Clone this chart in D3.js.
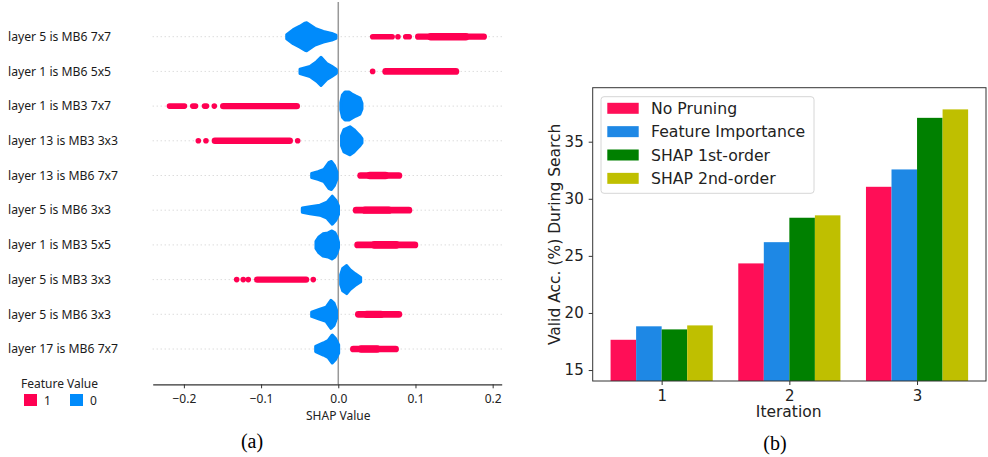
<!DOCTYPE html>
<html>
<head>
<meta charset="utf-8">
<script src="https://cdnjs.cloudflare.com/ajax/libs/d3/7.8.5/d3.min.js"></script>
<style>
  body { margin: 0; background: #fff; }
</style>
</head>
<body>
<script>
// ---------- data for (a): SHAP summary ----------
var features = ["layer 5 is MB6 7x7", "layer 1 is MB6 5x5", "layer 1 is MB3 7x7", "layer 13 is MB3 3x3",
  "layer 13 is MB6 7x7", "layer 5 is MB6 3x3", "layer 1 is MB3 5x5", "layer 5 is MB3 3x3",
  "layer 5 is MB6 3x3", "layer 17 is MB6 7x7"];

// feature value 0: [shap value, relative density]
var blueProfiles = [
  [[-0.0668, 0.15], [-0.0583, 0.5], [-0.0496, 0.75], [-0.0431, 0.97], [-0.041, 1.0], [-0.0302, 0.6], [-0.0194, 0.38], [-0.0085, 0.24], [-0.003, 0.12]],
  [[-0.0496, 0.15], [-0.0366, 0.36], [-0.0280, 0.7], [-0.0224, 1.0], [-0.0150, 0.57], [-0.0085, 0.36], [-0.0043, 0.21], [-0.0024, 0.12]],
  [[0.0033, 0.25], [0.0054, 0.8], [0.0087, 1.0], [0.0139, 1.0], [0.0177, 0.86], [0.0229, 0.71], [0.0281, 0.57], [0.0307, 0.2]],
  [[0.0042, 0.35], [0.0074, 0.8], [0.0152, 1.0], [0.0203, 0.8], [0.0242, 0.57], [0.0281, 0.35], [0.0307, 0.15]],
  [[-0.0345, 0.15], [-0.0263, 0.28], [-0.0185, 0.43], [-0.012, 0.93], [-0.0088, 1.0], [-0.0049, 0.7], [-0.0017, 0.25]],
  [[-0.0466, 0.15], [-0.0366, 0.25], [-0.0237, 0.36], [-0.0146, 0.57], [-0.0078, 1.0], [-0.003, 0.7], [0.0003, 0.3]],
  [[-0.0289, 0.25], [-0.025, 0.57], [-0.0198, 0.79], [-0.0133, 0.86], [-0.0082, 1.0], [-0.0043, 0.86], [-0.0017, 0.57], [0.0003, 0.2]],
  [[0.0031, 0.35], [0.0057, 0.8], [0.0109, 1.0], [0.0152, 0.71], [0.0216, 0.43], [0.029, 0.15]],
  [[-0.0345, 0.15], [-0.0237, 0.36], [-0.0159, 0.5], [-0.0095, 1.0], [-0.0056, 0.8], [-0.0023, 0.3]],
  [[-0.0293, 0.18], [-0.0194, 0.43], [-0.0133, 0.6], [-0.0078, 1.0], [-0.0036, 0.75], [0.0005, 0.3]]
];

// feature value 1: runs of dots [from, to, relative thickness]
var redRuns = [
  [[0.041, 0.0734, 0.2], [0.0773, 0.0773, 0.2], [0.0838, 0.0955, 0.2], [0.0994, 0.1926, 0.22], [0.115, 0.17, 0.27]],
  [[0.0445, 0.0445, 0.2], [0.057, 0.1567, 0.24]],
  [[-0.2223, -0.1956, 0.2], [-0.1921, -0.1813, 0.2], [-0.1769, -0.1671, 0.2], [-0.1606, -0.1606, 0.2], [-0.1532, -0.0496, 0.23]],
  [[-0.1813, -0.1813, 0.2], [-0.1714, -0.1714, 0.2], [-0.164, -0.0587, 0.23], [-0.0526, -0.0526, 0.2]],
  [[0.0246, 0.0829, 0.24], [0.036, 0.066, 0.27]],
  [[0.0187, 0.0959, 0.24], [0.03, 0.07, 0.26]],
  [[0.0207, 0.1036, 0.24], [0.042, 0.08, 0.27]],
  [[-0.1316, -0.1316, 0.2], [-0.1231, -0.1231, 0.2], [-0.1166, -0.1166, 0.2], [-0.1092, -0.0376, 0.23], [-0.0324, -0.0324, 0.2]],
  [[0.0216, 0.0829, 0.24], [0.032, 0.06, 0.26]],
  [[0.0152, 0.0786, 0.24], [0.025, 0.055, 0.26]]
];
var shapTicks = [-0.2, -0.1, 0, 0.1, 0.2];

// ---------- data for (b): bar chart ----------
var iterations = [1, 2, 3];
var methods = ["No Pruning", "Feature Importance", "SHAP 1st-order", "SHAP 2nd-order"];
var noPruning = [17.65, 24.34, 31.05];
var featureImportance = [18.83, 26.2, 32.57];
var shapFirst = [18.56, 28.34, 37.09];
var shapSecond = [18.91, 28.55, 37.83];
var accTicks = [15, 20, 25, 30, 35];

var w = 988;
var h = 457;

var svg = d3.select("body").append("svg")
    .attr("width", w)
    .attr("height", h)
    .style("display", "block");

svg.append("rect").attr("width", w).attr("height", h).attr("fill", "#fff");

// ================= (a) =================
var red = "#ff0052";
var blue = "#008bfb";
var labelFont = "'Noto Sans', 'Open Sans', sans-serif";

var x = d3.scaleLinear().domain([-0.2404, 0.2117]).range([152.7, 501.7]);
// two rows share a label, so rows are placed by index
var y = d3.scalePoint().domain(d3.range(features.length)).range([36.7, 349]);
var thick = d3.scaleLinear().domain([0, 1]).range([0, 14]);

var a = svg.append("g").attr("class", "shap");

// dotted row guides
a.selectAll(".guide").data(features).enter().append("line")
    .attr("x1", x.range()[0]).attr("x2", x.range()[1])
    .attr("y1", (d, i) => y(i)).attr("y2", (d, i) => y(i))
    .attr("stroke", "#cccccc")
    .attr("stroke-width", 1)
    .attr("stroke-dasharray", "1,3");

// zero line
a.append("line")
    .attr("x1", x(0)).attr("x2", x(0))
    .attr("y1", 2).attr("y2", 384)
    .attr("stroke", "#999")
    .attr("stroke-width", 1.5);

a.selectAll(".label").data(features).enter().append("text")
    .attr("x", 8)
    .attr("y", (d, i) => y(i))
    .attr("dy", "0.35em")
    .style("font-family", labelFont)
    .style("font-size", "12.2px")
    .style("fill", "#1a1a1a")
    .text(d => d);

features.forEach(function(f, i) {
    var cy = y(i);
    var area = d3.area()
        .x(d => x(d[0]))
        .y0(d => cy - thick(d[1]))
        .y1(d => cy + thick(d[1]))
        .curve(d3.curveLinear);
    a.append("path")
        .datum(blueProfiles[i])
        .attr("d", area)
        .attr("fill", blue)
        .attr("stroke", blue)
        .attr("stroke-width", 3)
        .attr("stroke-linejoin", "round");

    a.selectAll(".run" + i).data(redRuns[i]).enter().append("rect")
        .attr("x", d => Math.min(x(d[0]), (x(d[0]) + x(d[1])) / 2 - thick(d[2])))
        .attr("width", d => Math.max(x(d[1]) - x(d[0]), 2 * thick(d[2])))
        .attr("y", d => cy - thick(d[2]))
        .attr("height", d => 2 * thick(d[2]))
        .attr("rx", d => thick(d[2]))
        .attr("fill", red);
});

// x axis
var xAxis = a.append("g")
    .attr("transform", "translate(0,384.3)")
    .call(d3.axisBottom(x).tickValues(shapTicks).tickFormat(d3.format(".1f")).tickSize(4).tickSizeOuter(0));
xAxis.select(".domain").attr("stroke", "#333").attr("stroke-width", 1.2);
xAxis.selectAll(".tick line").attr("stroke", "#333");
xAxis.selectAll("text")
    .style("font-family", labelFont)
    .style("font-size", "12px")
    .style("fill", "#222")
    .attr("y", 10);

a.append("text")
    .attr("x", x(0)).attr("y", 420)
    .attr("text-anchor", "middle")
    .style("font-family", labelFont)
    .style("font-size", "12px")
    .style("fill", "#222")
    .text("SHAP Value");

// legend
a.append("text")
    .attr("x", 21).attr("y", 387.5)
    .style("font-family", labelFont)
    .style("font-size", "12px")
    .style("fill", "#222")
    .text("Feature Value");
var legA = [["1", red, 24], ["0", blue, 70]];
legA.forEach(function(l) {
    a.append("rect").attr("x", l[2]).attr("y", 394).attr("width", 13).attr("height", 12).attr("fill", l[1]);
    a.append("text").attr("x", l[2] + 20).attr("y", 404.5)
        .style("font-family", labelFont).style("font-size", "12px").style("fill", "#222").text(l[0]);
});

// ================= (b) =================
var colors = ["#ff0e57", "#1e88e5", "#008000", "#bfbf00"];
var series = [noPruning, featureImportance, shapFirst, shapSecond];
var mpl = "'DejaVu Sans', sans-serif";

var xb = d3.scaleLinear().domain([0.46, 3.54]).range([592.7, 986]);
var yb = d3.scaleLinear().domain([14.04, 39.73]).range([381, 87.7]);
var barW = 0.2;

var b = svg.append("g").attr("class", "bars");

series.forEach(function(s, j) {
    b.selectAll(".bar" + j).data(s).enter().append("rect")
        .attr("x", (d, i) => xb(iterations[i] + (j - 2) * barW))
        .attr("width", xb(barW) - xb(0))
        .attr("y", d => yb(d))
        .attr("height", d => yb(yb.domain()[0]) - yb(d))
        .attr("fill", colors[j]);
});

// frame
b.append("rect")
    .attr("x", xb.range()[0]).attr("y", yb.range()[1])
    .attr("width", xb.range()[1] - xb.range()[0])
    .attr("height", yb.range()[0] - yb.range()[1])
    .attr("fill", "none")
    .attr("stroke", "#333")
    .attr("stroke-width", 1);

var yAx = b.append("g")
    .attr("transform", "translate(" + xb.range()[0] + ",0)")
    .call(d3.axisLeft(yb).tickValues(accTicks).tickSize(4).tickPadding(5));
var xAx = b.append("g")
    .attr("transform", "translate(0," + yb.range()[0] + ")")
    .call(d3.axisBottom(xb).tickValues(iterations).tickFormat(d3.format("d")).tickSize(4).tickPadding(5));
[yAx, xAx].forEach(function(g) {
    g.select(".domain").remove();
    g.selectAll(".tick line").attr("stroke", "#333");
    g.selectAll("text").style("font-family", mpl).style("font-size", "15px").style("fill", "#222");
});

b.append("text")
    .attr("x", 788.7).attr("y", 417)
    .attr("text-anchor", "middle")
    .style("font-family", mpl).style("font-size", "15.5px").style("fill", "#222")
    .text("Iteration");

b.append("text")
    .attr("transform", "translate(560," + ((yb.range()[0] + yb.range()[1]) / 2) + ") rotate(-90)")
    .attr("text-anchor", "middle")
    .style("font-family", mpl).style("font-size", "15.5px").style("fill", "#222")
    .text("Valid Acc. (%) During Search");

// legend
var leg = b.append("g");
leg.append("rect")
    .attr("x", 601).attr("y", 96.7).attr("width", 213).attr("height", 96.6)
    .attr("rx", 3)
    .attr("fill", "#fff").attr("fill-opacity", 0.85)
    .attr("stroke", "#d6d6d6");
methods.forEach(function(m, j) {
    var ly = 108.3 + j * 23.35;
    leg.append("rect").attr("x", 607.3).attr("y", ly - 5.5).attr("width", 31.4).attr("height", 11).attr("fill", colors[j]);
    leg.append("text").attr("x", 651).attr("y", ly).attr("dy", "0.36em")
        .style("font-family", mpl).style("font-size", "15.7px").style("fill", "#222")
        .text(m);
});

// panel captions
svg.append("text").attr("x", 252).attr("y", 448).attr("text-anchor", "middle")
    .style("font-family", "'Liberation Serif', 'Times New Roman', serif").style("font-size", "20px")
    .text("(a)");
svg.append("text").attr("x", 775).attr("y", 450).attr("text-anchor", "middle")
    .style("font-family", "'Liberation Serif', 'Times New Roman', serif").style("font-size", "20px")
    .text("(b)");
</script>
</body>
</html>
